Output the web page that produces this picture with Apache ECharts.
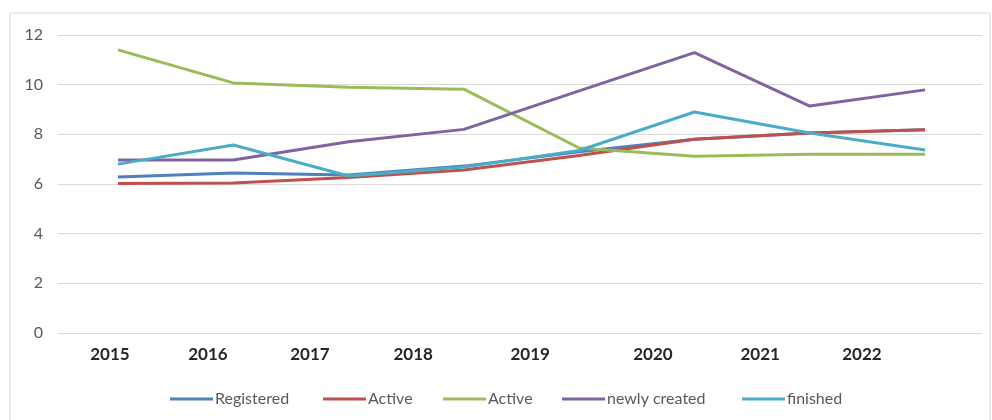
<!DOCTYPE html>
<html>
<head>
<meta charset="utf-8">
<script src="https://cdn.jsdelivr.net/npm/echarts@6/dist/echarts.min.js"></script>
<style>
  html, body { margin: 0; padding: 0; background: #fff; }
  #main { width: 992px; height: 420px; }
</style>
</head>
<body>
<div id="main"></div>
<script>
// tick labels under the x axis
var years = ['2015', '2016', '2017', '2018', '2019', '2020', '2021', '2022'];

// series values, one per point
var registered   = [6.28, 6.44, 6.36, 6.72, 7.3, 7.8, 8.05, 8.18];
var active       = [6.02, 6.04, 6.26, 6.56, 7.15, 7.8, 8.05, 8.18];
var active2      = [11.4, 10.07, 9.9, 9.82, 7.45, 7.12, 7.2, 7.2];
var newlyCreated = [6.97, 6.97, 7.7, 8.2, 9.75, 11.29, 9.14, 9.79];
var finished     = [6.8, 7.57, 6.32, 6.68, 7.35, 8.9, 8.05, 7.37];

// the second green series carries a trailing space so the legend keeps both "Active" entries
var seriesNames = ['Registered', 'Active', 'Active ', 'newly created', 'finished'];
var colors = ['#4F81BD', '#C0504D', '#9BBB59', '#8064A2', '#4BACC6'];

// where the year labels sit, in point-index units (they are not under the points)
var labelAt = [-0.07, 0.78, 1.665, 2.56, 3.575, 4.64, 5.57, 6.453];
// left edge of each legend entry, px
var legendLeft = [170, 323, 443, 562, 742];

var myChart = echarts.init(document.getElementById('main'));

function pairs(arr) {
	return arr.map(function (v, i) { return [i, v]; });
}

var allData = [registered, active, active2, newlyCreated, finished];
var series = allData.map(function (arr, k) {
	return {
		name: seriesNames[k],
		type: 'line',
		data: pairs(arr),
		symbol: 'none',
		z: 2 + k,
		lineStyle: { width: 3, color: colors[k] },
		itemStyle: { color: colors[k] }
	};
});

// one legend per entry so each one can sit where the picture has it
var legends = seriesNames.map(function (n, k) {
	return {
		left: legendLeft[k],
		top: 391,
		padding: 0,
		icon: 'rect',
		itemWidth: 43,
		itemHeight: 3,
		textStyle: { color: '#595959', fontSize: 16, fontFamily: 'Lato', padding: [0, 0, 0, -3] },
		data: [{ name: n, itemStyle: { color: colors[k] } }]
	};
});

var option = {
	animation: false,
	backgroundColor: '#fff',
	graphic: [{
		type: 'rect',
		shape: { x: 10, y: 13, width: 980, height: 420 },
		style: { fill: 'none', stroke: '#d9d9d9', lineWidth: 1 },
		silent: true
	}],
	grid: { left: 58, right: 10, top: 35, bottom: 87 },
	legend: legends,
	xAxis: {
		type: 'value',
		min: -0.5204,
		max: 7.494,
		axisLine: { show: false },
		axisTick: { show: false },
		splitLine: { show: false },
		axisLabel: {
			customValues: labelAt,
			margin: 13,
			color: '#262626',
			fontSize: 17,
			fontWeight: 'bold',
			fontFamily: 'Lato',
			formatter: function (v) {
				var i = labelAt.indexOf(v);
				return i >= 0 ? years[i] : '';
			}
		}
	},
	yAxis: {
		type: 'value',
		min: 0,
		max: 12,
		interval: 2,
		axisLine: { show: false },
		axisTick: { show: false },
		axisLabel: { color: '#595959', fontSize: 16, fontFamily: 'Lato', margin: 15 },
		splitLine: { lineStyle: { color: '#d9d9d9', width: 1 } }
	},
	series: series
};

myChart.setOption(option);
</script>
</body>
</html>
